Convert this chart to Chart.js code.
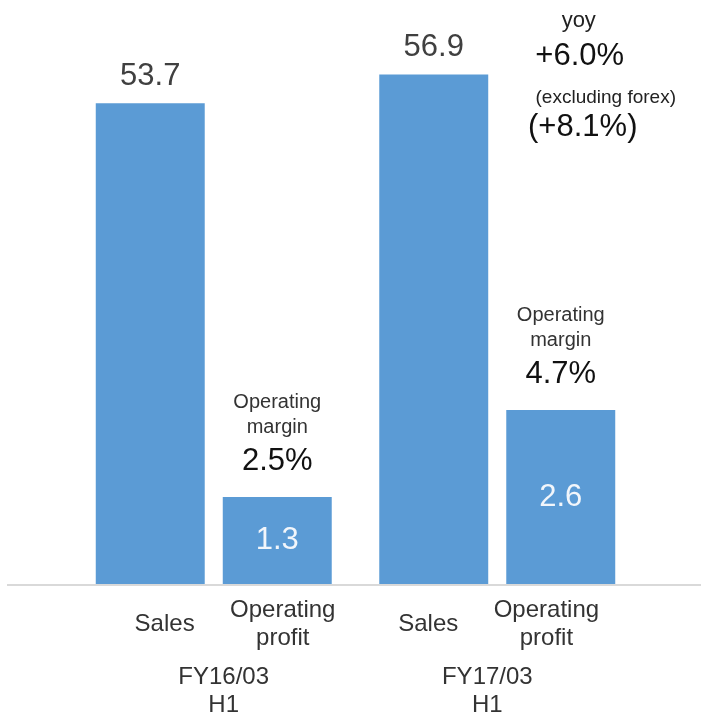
<!DOCTYPE html>
<html>
<head>
<meta charset="utf-8">
<script src="https://cdn.jsdelivr.net/npm/chart.js@4.4.1/dist/chart.umd.min.js"></script>
<style>
  html, body { margin: 0; padding: 0; background: #fff; }
  #wrap { width: 701px; height: 719px; }
</style>
</head>
<body>
<div id="wrap"><canvas id="chart"></canvas></div>
<script>
// half-year results, sales and operating profit on their own scales
const periods = [['FY16/03', 'H1'], ['FY17/03', 'H1']];
const seriesNames = [['Sales'], ['Operating', 'profit']];
const sales = [53.7, 56.9];
const operatingProfit = [1.3, 2.6];
const operatingMargin = ['2.5%', '4.7%'];
const yoyLines = ['yoy', '+6.0%', '(excluding forex)', '(+8.1%)'];

const FONT = '"Liberation Sans", Arial, sans-serif';
const BLUE = '#5b9bd5';

function text(ctx, str, x, y, size, color, weight) {
  ctx.font = (weight || 'normal') + ' ' + size + 'px ' + FONT;
  ctx.fillStyle = color;
  ctx.textAlign = 'center';
  ctx.textBaseline = 'middle';
  ctx.fillText(str, x, y);
}

const annotations = {
  id: 'annotations',
  beforeDatasetsDraw(chart) {
    const ctx = chart.ctx;
    const y0 = chart.scales.y.getPixelForValue(0);
    ctx.save();
    ctx.strokeStyle = '#d9d9d9';
    ctx.lineWidth = 2;
    ctx.beginPath();
    ctx.moveTo(7, y0 + 1);
    ctx.lineTo(chart.width, y0 + 1);
    ctx.stroke();
    ctx.restore();
  },
  afterDatasetsDraw(chart) {
    const ctx = chart.ctx;
    const area = chart.chartArea;
    const y0 = chart.scales.y.getPixelForValue(0);
    const salesBars = chart.getDatasetMeta(0).data;
    const profitBars = chart.getDatasetMeta(1).data;
    ctx.save();

    // values above the sales bars
    salesBars.forEach((bar, i) => {
      text(ctx, sales[i].toFixed(1), bar.x, bar.y - 27, 31, '#404040');
    });

    // profit values inside the bars, margin on top
    profitBars.forEach((bar, i) => {
      text(ctx, operatingProfit[i].toFixed(1), bar.x, (bar.y + bar.base) / 2, 31, '#f2f6fb');
      text(ctx, 'Operating', bar.x, bar.y - 95, 20, '#333');
      text(ctx, 'margin', bar.x, bar.y - 70, 20, '#333');
      text(ctx, operatingMargin[i], bar.x, bar.y - 36, 31, '#111');
    });

    // year-on-year note beside the latest sales bar
    const last = salesBars[salesBars.length - 1];
    const yoyLayout = [
      { dx: 145, dy: -54, size: 22, color: '#222' },
      { dx: 146, dy: -18, size: 31, color: '#111' },
      { dx: 172, dy: 23, size: 19, color: '#222' },
      { dx: 149, dy: 53, size: 31, color: '#111' }
    ];
    yoyLines.forEach((str, i) => {
      const l = yoyLayout[i];
      text(ctx, str, last.x + l.dx, last.y + l.dy, l.size, l.color);
    });

    // bottom labels sit on a slightly narrower track than the bars
    const mid = (area.left + area.right) / 2;
    const squeeze = x => mid + (x - mid) * 0.93;
    [salesBars, profitBars].forEach((bars, d) => {
      const lines = seriesNames[d];
      bars.forEach(bar => {
        lines.forEach((str, k) => {
          const y = y0 + 40 - (lines.length - 1) * 14 + k * 28;
          text(ctx, str, squeeze(bar.x), y, 24, '#333');
        });
      });
    });
    periods.forEach((lines, i) => {
      const x = squeeze(chart.scales.x.getPixelForValue(i));
      lines.forEach((str, k) => {
        text(ctx, str, x, y0 + 93 + k * 28, 24, '#333');
      });
    });
    ctx.restore();
  }
};

new Chart(document.getElementById('chart'), {
  type: 'bar',
  data: {
    labels: periods.map(p => p.join(' ')),
    datasets: [
      {
        label: 'Sales',
        data: sales,
        yAxisID: 'y',
        backgroundColor: BLUE,
        categoryPercentage: 0.896,
        barPercentage: 0.858
      },
      {
        label: 'Operating profit',
        data: operatingProfit,
        yAxisID: 'y2',
        backgroundColor: BLUE,
        categoryPercentage: 0.896,
        barPercentage: 0.858
      }
    ]
  },
  options: {
    responsive: true,
    maintainAspectRatio: false,
    animation: false,
    layout: { padding: { left: 72, right: 62, top: 2, bottom: 135 } },
    scales: {
      x: { display: false },
      y: { display: false, min: 0, max: 65 },
      y2: { display: false, min: 0, max: 8.7, position: 'right' }
    },
    plugins: {
      legend: { display: false },
      tooltip: { enabled: false }
    }
  },
  plugins: [annotations]
});
</script>
</body>
</html>
